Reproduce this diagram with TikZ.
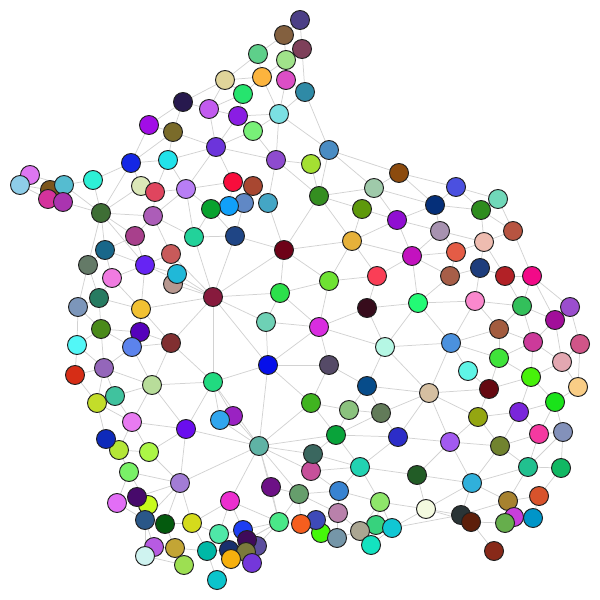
\documentclass[tikz,border=0pt]{standalone}
\usetikzlibrary{backgrounds}
\definecolor{edgec}{HTML}{D2D2D2}
\definecolor{rimc}{HTML}{202020}
\tikzset{
  vtx/.style={circle, draw=rimc, line width=1.1pt, minimum size=0.76cm, inner sep=0pt},
  edge/.style={draw=edgec, line width=0.85pt}
}
\begin{document}
\begin{tikzpicture}[x=0.04cm, y=-0.04cm]
\useasboundingbox (0,0) rectangle (600,600);
\foreach \n/\x/\y/\c in {
a1/300/20/4B3F86, a2/284/35/83603F, a3/302/49/7E405A, a4/258/54/5ECF8A, a5/286/60/A0E38A,
a6/225/80/E0D49A, a7/262/77/FCB43E, a8/286/80/DC4EC6, a9/305/92/2F8AA6, a10/243/94/26E46E,
a11/209/109/C25BEF, a12/183/102/27194E, a13/238/116/8A1DE3, a14/279/114/7BE0E3, a15/253/131/78F078,
a16/149/125/A20DE6, a17/173/132/7A6B2A, a18/216/147/6C34DB, a19/276/160/8E4BCF, a20/329/150/4A8CC3,
a21/311/164/A4E032, a22/131/163/1427E5, a23/168/160/22E2EA, a24/93/180/2EF0D6, a25/30/175/DD76F1,
a26/20/185/8ECDE8, a27/50/190/7C561D, a28/64/185/55BCD0, a29/48/199/D4329C, a30/63/202/AA34B0,
a31/141/186/DBE8B8, a32/155/192/E0455E, a33/186/189/B87EF5, a34/233/182/F80D3C, a35/253/186/A84731,
a37/244/203/6088C5, a36/229/206/11A0F9, a38/268/203/44A6C5, a39/211/209/08A22E, a40/319/196/348E20,
a41/399/173/8C4B0E, a42/374/188/9FCAAA, a43/362/209/5E990B, a44/456/187/4B50E0, a45/498/199/70D8B9,
a46/435/205/052F79, a47/481/210/2E8C1E, a48/397/220/900ED2, a49/440/231/A792B0, a50/513/231/B75441,
a51/101/213/3E6E35, a52/153/216/AC5DB8, a53/135/236/A8408C, a54/194/237/22D29A, a55/235/236/1F4585,
a56/284/250/6E0218, a57/352/241/E6B13A, a58/456/252/E45C46, a59/484/242/EEBCB0, a60/412/256/C312BF,
a61/105/250/19678A, a62/88/265/647A67, a63/145/265/6624F3, a64/171/254/C85A5A, a65/112/278/F07BE1,
a67/173/284/B79890, a66/177/274/20B8D8, a68/329/281/6EE233, a69/377/276/FA3E56, a70/450/276/A75E48,
a71/480/268/1E3D7C, a72/505/276/B22126, a73/532/276/F20A88, a74/99/298/277B61, a75/78/307/7C96BA,
a76/141/309/F1C133, a77/213/297/871A3D, a78/280/293/2CE04B, a79/367/308/370C1C, a80/418/303/23FA75,
a81/475/301/FA88CD, a82/522/306/33C05B, a83/570/307/9B4ECE, a84/555/320/A20E9A, a85/101/329/4A8A1A,
a86/140/332/5502BB, a87/132/347/5C83EC, a88/171/343/812F31, a89/266/322/6ED1B5, a90/319/327/D92DE0,
a91/499/329/A35C3F, a92/533/342/CC3A9A, a93/580/344/D05588, a94/77/345/52F7F7, a95/451/343/4B91DE,
a96/385/347/B5F7E4, a97/268/365/060FEA, a98/329/365/554A67, a99/104/368/9466BA, a100/75/375/D62D16,
a101/152/385/B8DD9A, a102/213/382/21DA80, a103/367/386/074C8A, a104/429/393/D5BFA1, a105/468/371/5FF5E6,
a106/489/389/650911, a107/531/377/47F10A, a108/562/362/E3A7B1, a109/578/387/F9CD86, a110/499/358/3FE33A,
a111/97/403/C3DD2A, a112/115/396/40C29E, a113/132/422/E87BF1, a114/233/416/9A22C2, a115/220/420/31A6EE,
a116/186/429/6A0EEE, a117/311/403/40B420, a118/349/410/8BC27E, a119/381/413/627B59, a121/119/450/B4E637,
a120/106/439/0E2ABA, a122/149/452/ACF646, a123/259/446/5FB3A5, a124/336/435/09A33A, a125/398/437/2C2DC8,
a126/450/442/A25AF0, a127/478/417/94A611, a128/519/412/7A26DB, a129/539/434/F439A0, a130/563/432/8391BA,
a131/555/402/1AE31A, a133/311/471/C6509A, a132/313/454/3A675F, a134/360/467/22D3B2, a135/417/475/225C26,
a136/500/446/71832F, a137/528/467/21C08F, a138/561/468/11B863, a139/129/472/79F167, a140/180/483/A27CD5,
a141/271/487/6D1186, a142/299/494/669E6C, a143/339/491/3883D1, a144/380/502/8EE66A, a145/472/483/30B0DB,
a146/426/509/F4FAE0, a147/508/501/A7822F, a148/539/496/D8532C, a149/117/503/E26EF6, a151/148/505/C8FB1C,
a150/137/497/470A6B, a152/145/520/2A5788, a153/165/524/045A0E, a154/192/523/D4DB1C, a155/230/501/EC2ECF,
a156/279/522/4AE888, a158/219/534/4FE8A8, a161/321/533/45F80A, a160/316/520/3E4AB8, a159/301/524/F55E1E,
a162/338/513/B981AB, a163/337/538/7596A8, a165/376/525/37D27D, a164/360/531/ABA692, a166/392/528/10C7D4,
a167/371/545/13E2C0, a168/461/515/2A3436, a169/471/522/5D1F0A, a170/514/517/C83EDB, a171/505/523/66AE4C,
a172/533/518/0095C8, a173/494/551/882919, a174/154/547/B75BE2, a175/145/556/CFF3F0, a176/175/548/C3A535,
a177/184/565/9DDF52, a178/207/551/00B8A6, a179/217/580/0BC4CC, a157/243/530/1E3EF2, a180/229/550/18306E,
a182/257/546/5C4E9E, a181/247/540/3F0A5A, a183/246/552/7B7A3C, a184/231/559/F6B00E, a185/252/563/7437DA}
{
  \definecolor{tmpc}{HTML}{\c}
  \node[vtx, fill=tmpc] (\n) at (\x,\y) {};
}
\begin{scope}[on background layer]
\foreach \u/\v in {
a1/a2, a1/a3, a2/a4, a2/a5, a3/a5, a3/a9, a4/a6, a4/a7, a5/a8, a5/a7, a6/a7, a6/a10, a6/a11, a6/a12, a7/a10, a7/a14, a8/a14, a8/a9, a9/a14, a9/a20, a10/a13, a10/a11, a11/a13, a11/a18, a11/a12, a12/a16, a12/a17, a13/a14, a13/a15, a13/a18, a14/a15, a14/a19, a14/a20, a15/a18, a15/a19, a18/a19, a17/a18, a16/a17, a16/a22, a17/a22, a17/a23, a18/a23, a18/a33, a18/a34, a19/a21, a19/a40, a19/a38, a20/a21, a20/a40, a20/a42, a20/a41, a21/a40,
a22/a23, a22/a24, a22/a31, a22/a51, a23/a32, a23/a33, a24/a28, a24/a51, a25/a26, a25/a28, a26/a27, a26/a29, a27/a30, a28/a30, a28/a51, a30/a51, a31/a32, a31/a51, a32/a33, a32/a52, a33/a34, a33/a39, a33/a54, a33/a52, a34/a35, a34/a36, a35/a37, a35/a38, a36/a37, a36/a39, a37/a55, a38/a56, a39/a54, a39/a55, a40/a42, a40/a43, a40/a56, a40/a57, a41/a42, a41/a44, a41/a46, a42/a46, a42/a48, a43/a48, a43/a57, a44/a45, a44/a46, a44/a47, a45/a47, a45/a50, a46/a47, a46/a48, a46/a49, a47/a59, a47/a50, a48/a49, a48/a60, a48/a57, a49/a59, a49/a60, a49/a58, a50/a59, a50/a73,
a51/a52, a51/a53, a51/a61, a51/a62, a51/a63, a52/a53, a52/a54, a52/a64, a53/a61, a53/a63, a54/a55, a54/a77, a55/a56, a55/a77, a56/a57, a56/a77, a56/a78, a56/a68, a57/a60, a57/a68, a57/a69, a58/a59, a58/a60, a58/a70, a59/a71, a59/a72, a60/a69, a60/a70, a60/a80,
a61/a62, a61/a63, a61/a65, a62/a74, a62/a75, a63/a64, a63/a65, a63/a66, a63/a76, a63/a77, a64/a66, a64/a77, a65/a74, a65/a76, a66/a77, a67/a77, a68/a69, a68/a78, a68/a90, a69/a79, a70/a71, a70/a80, a71/a72, a71/a81, a72/a73, a72/a82, a73/a82, a73/a83, a73/a84,
a74/a75, a74/a76, a74/a85, a75/a85, a75/a94, a76/a77, a76/a86, a76/a88, a77/a78, a77/a88, a77/a89, a77/a97, a77/a102, a78/a89, a78/a90, a79/a80, a79/a90, a79/a96, a80/a81, a80/a95, a80/a96, a81/a82, a81/a91, a81/a95, a82/a84, a82/a91, a82/a92, a83/a84, a83/a93, a84/a92, a84/a108,
a85/a86, a85/a87, a85/a94, a85/a99, a86/a87, a86/a88, a87/a88, a87/a99, a87/a101, a88/a101, a88/a102, a89/a90, a89/a97, a90/a96, a90/a97, a90/a98, a91/a95, a91/a92, a91/a110, a92/a110, a92/a107, a92/a108, a93/a108, a93/a109, a94/a99, a94/a100, a95/a96, a95/a104, a95/a105, a95/a110, a96/a103, a96/a104, a97/a98, a97/a102, a97/a117, a97/a123, a98/a103, a98/a117,
a99/a100, a99/a101, a99/a111, a99/a112, a100/a111, a101/a102, a101/a112, a101/a113, a101/a116, a102/a114, a102/a115, a102/a116, a102/a123, a103/a104, a103/a118, a103/a119, a104/a106, a104/a119, a104/a125, a104/a126, a104/a127, a105/a106, a106/a107, a106/a110, a106/a127, a107/a108, a107/a110, a107/a128, a107/a131, a108/a109, a109/a131,
a111/a112, a111/a113, a111/a120, a112/a113, a113/a116, a113/a121, a113/a122, a114/a115, a114/a123, a115/a123, a116/a122, a116/a123, a116/a140, a117/a118, a117/a123, a117/a124, a118/a119, a118/a124, a119/a124, a119/a125, a120/a121, a121/a122, a121/a139, a122/a140, a123/a124, a123/a132, a123/a133, a123/a140, a123/a141, a123/a142, a123/a155, a123/a156, a124/a125, a124/a132, a124/a134, a125/a126, a125/a134, a126/a127, a126/a135, a126/a136, a126/a145, a127/a128, a127/a136, a128/a129, a128/a136, a128/a131, a129/a130, a129/a131, a129/a136, a129/a137, a130/a131, a130/a137, a130/a138, a132/a133, a132/a134, a133/a134, a133/a143, a134/a135, a134/a143, a134/a144, a135/a145, a135/a146, a136/a137, a136/a145, a137/a138, a137/a145, a137/a147, a138/a148,
a139/a140, a139/a149, a139/a151, a140/a150, a140/a152, a140/a153, a140/a154, a141/a142, a141/a156, a142/a143, a142/a156, a142/a159, a142/a162, a143/a144, a143/a162, a144/a146, a144/a164, a144/a165, a144/a166, a145/a146, a145/a147, a145/a168, a146/a166, a146/a168, a146/a169, a147/a148, a147/a168, a147/a171, a147/a170, a148/a172, a149/a150, a149/a152, a150/a151, a151/a152, a152/a153, a152/a174, a152/a175, a153/a154, a153/a176, a154/a155, a154/a158, a154/a178, a155/a156, a155/a157, a155/a158, a156/a157, a156/a159, a156/a180, a156/a181, a156/a182, a157/a158, a158/a178, a159/a160, a159/a161, a160/a161, a160/a162, a161/a163, a162/a163, a162/a164, a163/a164, a164/a165, a164/a167, a165/a166, a166/a167, a166/a168, a168/a169, a169/a171, a169/a173, a170/a171, a170/a172, a171/a172, a174/a175, a174/a176, a175/a177, a176/a177, a176/a178, a178/a179, a178/a180, a179/a184, a180/a184, a181/a183, a182/a185, a183/a185, a184/a185, a181/a182, a180/a183}
{
  \draw[edge] (\u.center) -- (\v.center);
}
\end{scope}
\end{tikzpicture}
\end{document}
